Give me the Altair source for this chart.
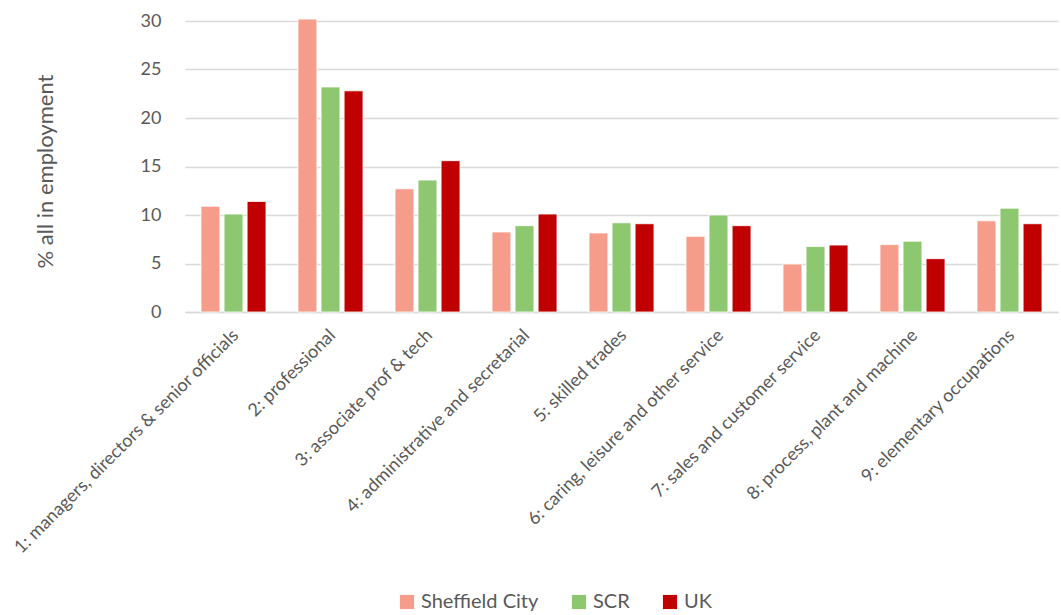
import altair as alt
import pandas as pd

categories = [
    "1: managers, directors & senior officials",
    "2: professional",
    "3: associate prof & tech",
    "4: administrative and secretarial",
    "5: skilled trades",
    "6: caring, leisure and other service",
    "7: sales and customer service",
    "8: process, plant and machine",
    "9: elementary occupations",
]
series = ["Sheffield City", "SCR", "UK"]
sheffield = [10.9, 30.2, 12.7, 8.25, 8.15, 7.8, 4.95, 6.95, 9.4]
scr = [10.1, 23.2, 13.6, 8.9, 9.2, 10.0, 6.75, 7.3, 10.7]
uk = [11.4, 22.8, 15.6, 10.1, 9.1, 8.9, 6.9, 5.5, 9.1]
colors = ["#F59D8A", "#8DC870", "#C00000"]

rows = []
for name, vals in zip(series, [sheffield, scr, uk]):
    for c, v in zip(categories, vals):
        rows.append({"occupation": c, "area": name, "value": v})
df = pd.DataFrame(rows)

FONT = "Lato"

chart = alt.Chart(df).mark_bar(stroke="white", strokeWidth=0.8).encode(
    x=alt.X("occupation:N", sort=categories,
            scale=alt.Scale(paddingInner=0.33, paddingOuter=0.165),
            axis=alt.Axis(title=None, labelAngle=-45, labelFontSize=18,
                          labelColor="#595959", labelFont=FONT, labelPadding=14,
                          labelOffset=-4, grid=False,
                          ticks=False, domain=True, domainColor="#D9D9D9",
                          domainWidth=1.5, labelLimit=400)),
    xOffset=alt.XOffset("area:N", sort=series, scale=alt.Scale(paddingInner=0.18)),
    y=alt.Y("value:Q", scale=alt.Scale(domain=[0, 30], nice=False),
            axis=alt.Axis(title="% all in employment", values=[0, 5, 10, 15, 20, 25, 30],
                          labelFontSize=18, labelColor="#595959", labelFont=FONT,
                          labelPadding=24, ticks=False, domain=False,
                          gridColor="#D9D9D9", gridWidth=1.5,
                          titleFont=FONT, titleFontSize=22, titleFontWeight="normal",
                          titleColor="#595959", titleX=-140, titleY=150,
                          titleAngle=-90, titleAlign="center", titleBaseline="middle")),
    color=alt.Color("area:N", sort=series,
                    scale=alt.Scale(domain=series, range=colors),
                    legend=alt.Legend(title=None, orient="none", direction="horizontal",
                                      legendX=212, legendY=571, symbolType="square",
                                      symbolSize=200, symbolStrokeWidth=0,
                                      labelFontSize=20, labelColor="#595959",
                                      labelFont=FONT, columnPadding=30, symbolOpacity=1)),
).properties(
    width=873, height=291,
    background="white",
    padding={"left": 185, "top": 21, "right": 3, "bottom": 303},
    autosize=alt.AutoSizeParams(type="none"),
).configure_view(strokeWidth=0, stroke=None)

chart.save("out.html", embed_options={"renderer": "svg", "actions": False})
